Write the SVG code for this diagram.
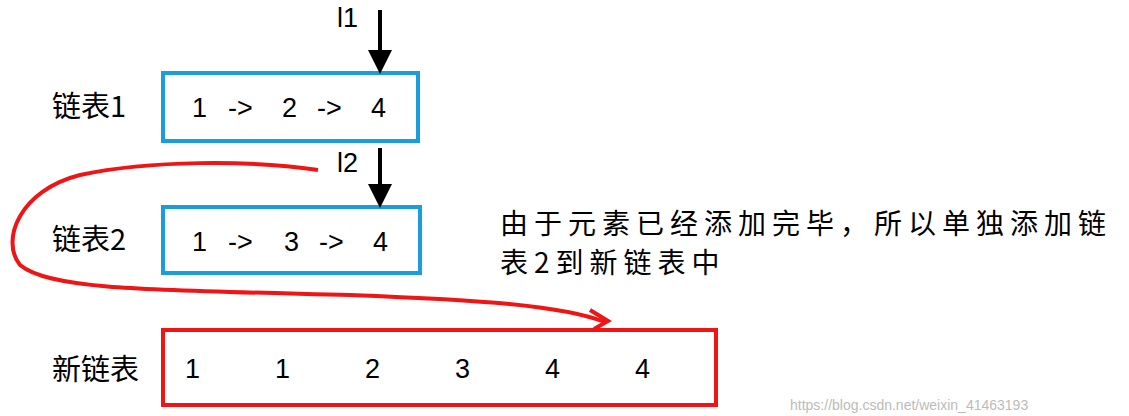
<svg xmlns="http://www.w3.org/2000/svg" width="1129" height="416" viewBox="0 0 1129 416">
<style>
text{font-family:"Noto Sans CJK SC","Liberation Sans",sans-serif;fill:#000}
.lbl{font-size:29px}
.desc{font-size:28px;letter-spacing:6px}
.num{font-family:"Liberation Sans",sans-serif;font-size:27px}
.blue{fill:none;stroke:#1a9ddb;stroke-width:4}
.red{fill:none;stroke:#f01414;stroke-width:4}
.ptr{stroke:#000;stroke-width:4;fill:none}
</style>
<defs><marker id="ah" markerWidth="6" markerHeight="6" refX="5" refY="3" orient="auto"><path d="M0,0 L6,3 L0,6 z" fill="#000"/></marker></defs>
<rect width="1129" height="416" fill="#fff"/>
<g id="list1"><rect class="blue" x="163" y="73" width="255" height="68"/>
<text class="num" x="192" y="117">1</text><text class="num" x="228" y="117">-&gt;</text><text class="num" x="282" y="117">2</text><text class="num" x="317" y="117">-&gt;</text><text class="num" x="371" y="117">4</text></g>
<g id="list2"><rect class="blue" x="163" y="207" width="257" height="66"/>
<text class="num" x="192" y="251">1</text><text class="num" x="228" y="251">-&gt;</text><text class="num" x="284" y="251">3</text><text class="num" x="319" y="251">-&gt;</text><text class="num" x="373" y="251">4</text></g>
<g id="newlist"><rect class="red" x="163" y="330" width="553" height="75"/>
<text class="num" x="185" y="378">1</text><text class="num" x="275" y="378">1</text><text class="num" x="365" y="378">2</text><text class="num" x="455" y="378">3</text><text class="num" x="545" y="378">4</text><text class="num" x="635" y="378">4</text></g>
<g id="labels">
<text class="lbl" x="52" y="117">链表1</text>
<text class="lbl" x="52" y="250">链表2</text>
<text class="lbl" x="52" y="380">新链表</text>
<text class="num" x="337" y="27" font-size="24">l1</text>
<text class="num" x="337" y="172" font-size="24">l2</text>
<text class="desc" x="500" y="234">由于元素已经添加完毕，所以单独添加链</text>
<text class="desc" x="500" y="273">表2到新链表中</text>
<text x="790" y="410" style="font-family:'Liberation Sans',sans-serif;font-size:14px;fill:#bbb">https://blog.csdn.net/weixin_41463193</text>
</g>
<g id="connectors">
<line class="ptr" x1="380" y1="10" x2="380" y2="70" marker-end="url(#ah)"/>
<line class="ptr" x1="380" y1="148" x2="380" y2="204" marker-end="url(#ah)"/>
<path class="red" stroke-width="3" d="M318,170 C250,160 150,160 80,175 C20,190 0,240 20,265 C50,290 150,290 350,295 C480,300 560,305 605,322"/>
<path class="red" stroke-width="3" d="M590,310 L608,321 L594,329"/>
</g>
</svg>
